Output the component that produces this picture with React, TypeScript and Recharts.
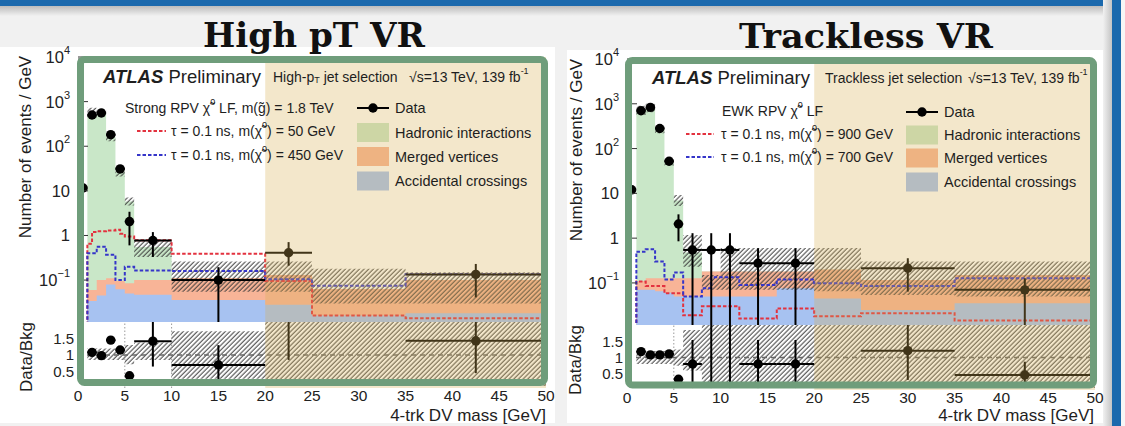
import React from 'react';
import {
  ComposedChart, Area, Line, Scatter, XAxis, YAxis, ErrorBar, ReferenceArea, ReferenceLine,
} from 'recharts';

const SANS = '"Liberation Sans", Arimo, Arial, Helvetica, sans-serif';
const SERIF = '"DejaVu Serif", "Liberation Serif", serif';

/* ================= High pT VR (left) ================= */
const hpBinEdges = [1, 2, 3, 4, 5, 6, 10, 20, 25, 35, 50];
const hpHadronic = [480, 575, 160, 27, 5.7, 0.45, 0, 0, 0, 0];
const hpMerged = [0.026, 0.055, 0.03, 0.033, 0.035, 0.053, 0.076, 0.102, 0.047, 0.082];
const hpAccidental = [0.034, 0.045, 0.08, 0.062, 0.05, 0.047, 0.036, 0.028, 0.016, 0.018];
const hpUncLow = [430, 500, 130, 21, 4.7, 0.33, 0.055, 0.055, 0.03, 0.03];
const hpUncHigh = [730, 680, 195, 34, 7.1, 0.8, 0.26, 0.26, 0.18, 0.15];
const hpSig50Edges = [1, 1.5, 2, 3, 4, 4.5, 5, 6, 10, 20, 25, 35, 50];
const hpSig50 = [0.65, 1.2, 1.25, 1.3, 1.35, 1.1, 0.95, 0.78, 0.39, 0.095, 0.016, 0.014];
const hpSig450Edges = [1, 2, 3, 4, 5, 6, 10, 20, 25, 35, 50];
const hpSig450 = [0.4, 0.56, 0.37, 0.1, 0.2, 0.165, 0.16, 0.105, 0.075, 0.135];
const hpDataX = [0.55, 1.5, 2.5, 3.5, 4.5, 5.5, 8, 15, 22.5, 42.5];
const hpDataXLow = [0.55, 1, 2, 3, 4, 5, 6, 10, 20, 35];
const hpDataXHigh = [0.55, 2, 3, 4, 5, 6, 10, 20, 25, 50];
const hpDataY = [11.6, 500, 555, 182, 31, 2.05, 0.77, 0.1, 0.41, 0.134];
const hpDataYLow = [11.6, 500, 555, 182, 31, 0.6, 0.33, 0.005, 0.21, 0.041];
const hpDataYHigh = [11.6, 500, 555, 182, 31, 3.4, 1.19, 0.195, 0.71, 0.23];
const hpRatioX = [1.5, 2.5, 3.5, 4.5, 5.5, 8, 15, 22.5, 42.5];
const hpRatioXLow = [1, 2, 3, 4, 5, 6, 10, 20, 35];
const hpRatioXHigh = [2, 3, 4, 5, 6, 10, 20, 25, 50];
const hpRatio = [1.08, 0.98, 1.45, 1.15, 0.37, 1.42, 0.7, 3.4, 1.43];
const hpRatioLow = [1.02, 0.92, 1.38, 1.06, 0.3, 0.65, 0.06, 0.85, 0.45];
const hpRatioHigh = [1.14, 1.04, 1.52, 1.24, 0.44, 2.4, 1.3, 6, 2.4];
const hpRatioUncLow = [0.85, 0.85, 0.85, 0.85, 0.72, 0.85, 0.28, 0.06, 0.06, 0.06];
const hpRatioUncHigh = [1.2, 1.2, 1.2, 1.2, 1.3, 1.38, 1.72, 3, 3, 3];

/* ================= Trackless VR (right) ================= */
const tlBinEdges = [1, 2, 3, 4, 5, 6, 8, 10, 12, 16, 20, 25, 35, 50];
const tlHadronic = [680, 800, 270, 50, 6.8, 0.35, 0, 0, 0, 0, 0, 0, 0];
const tlMerged = [0.04, 0.057, 0.062, 0.067, 0.077, 0.077, 0.13, 0.13, 0.13, 0.104, 0.155, 0.092, 0.115];
const tlAccidental = [0.07, 0.07, 0.065, 0.06, 0.05, 0.05, 0.05, 0.05, 0.05, 0.076, 0.045, 0.025, 0.035];
const tlUncLow = [560, 650, 220, 42, 5.2, 0.23, 0.07, 0.07, 0.07, 0.07, 0.065, 0.054, 0.05];
const tlUncHigh = [900, 1000, 330, 62, 9.2, 1.18, 0.15, 0.6, 0.6, 0.6, 0.6, 0.3, 0.3];
const tlSig900Edges = [1, 2, 4, 6, 8, 12, 16, 20, 25, 35, 50];
const tlSig900 = [0.107, 0.085, 0.059, 0.019, 0.03, 0.016, 0.027, 0.018, 0.021, 0.0145];
const tlSig700Edges = [1, 2, 3, 4, 5, 6, 8, 9, 12, 16, 20, 25, 35, 50];
const tlSig700 = [0.5, 0.565, 0.3, 0.12, 0.17, 0.05, 0.076, 0.134, 0.09, 0.12, 0.098, 0.085, 0.128];
const tlDataX = [0.5, 1.5, 2.5, 3.5, 4.5, 5.5, 7, 9, 11, 14, 18, 30, 42.5];
const tlDataXLow = [0.5, 1, 2, 3, 4, 5, 6, 8, 10, 12, 16, 25, 35];
const tlDataXHigh = [0.5, 2, 3, 4, 5, 6, 8, 10, 12, 16, 20, 35, 50];
const tlDataY = [12, 700, 830, 280, 52, 2.07, 0.545, 0.545, 0.545, 0.275, 0.275, 0.213, 0.07];
const tlDataYLow = [12, 700, 830, 280, 52, 0.85, 0.005, 0.005, 0.005, 0.005, 0.005, 0.064, 0.005];
const tlDataYHigh = [12, 700, 830, 280, 52, 3.4, 1.29, 1.29, 1.29, 0.595, 0.595, 0.356, 0.127];
const tlRatioX = [1.5, 2.5, 3.5, 4.5, 5.5, 7, 9, 11, 14, 18, 30, 42.5];
const tlRatioXLow = [1, 2, 3, 4, 5, 6, 8, 10, 12, 16, 25, 35];
const tlRatioXHigh = [2, 3, 4, 5, 6, 8, 10, 12, 16, 20, 35, 50];
const tlRatio = [1.18, 1.08, 1.08, 1.11, 0.33, 0.8, 3, 3, 0.8, 0.8, 1.21, 0.46];
const tlRatioLow = [1.12, 1.02, 1.02, 1.05, 0.28, 0.06, 0.06, 0.06, 0.06, 0.06, 0.31, 0.06];
const tlRatioHigh = [1.24, 1.14, 1.14, 1.17, 0.38, 1.54, 6, 6, 1.54, 1.54, 2.5, 0.87];
const tlRatioUncLow = [0.8, 0.8, 0.8, 0.8, 0.75, 0.6, 0.06, 0.06, 0.06, 0.06, 0.06, 0.06, 0.06];
const tlRatioUncHigh = [1.2, 1.2, 1.2, 1.2, 1.25, 1.85, 3, 3, 3, 3, 3, 3, 3];

/* axis ticks */
const xUnitTicks = Array.from({ length: 51 }, (_, i) => i);
const xLabelTicks = [0, 5, 10, 15, 20, 25, 30, 35, 40, 45, 50];
const ratioTicks = [0.5, 1, 1.5];
const YMIN = 0.0115;
const YMAX = 10000;

/* colours */
const GREEN = '#c9e7c8';
const ORANGE = '#f8b497';
const BLUE = '#a7c2f1';
const RED = '#e3323f';
const SIGBLUE = '#3535c9';
const OVERLAY = '#d7af52';
const OVERLAY_OP = 0.3;
const FRAME = '#6f9d7b';
const SLIDE_BLUE = '#1b69ad';
const Y_W = 78;
const TOP_PAD = 18;

function tint(hex: string) {
  const n = parseInt(hex.slice(1), 16);
  const c = [(n >> 16) & 255, (n >> 8) & 255, n & 255];
  const o = [215, 175, 82];
  return `rgb(${c.map((v, i) => Math.round(v * (1 - OVERLAY_OP) + o[i] * OVERLAY_OP)).join(',')})`;
}

function stepRows(edges: number[], vals: number[], fromFloor = false) {
  const rows: any[] = [];
  if (fromFloor) rows.push({ x: edges[0], y: 0.001 });
  vals.forEach((v, i) => rows.push({ x: edges[i], y: v }));
  rows.push({ x: edges[edges.length - 1], y: vals[vals.length - 1] });
  return rows;
}
function bandRows(edges: number[], lo: number[], hi: number[]) {
  const rows = lo.map((l, i) => ({ x: edges[i], band: [l, hi[i]] }));
  rows.push({ x: edges[edges.length - 1], band: [lo[lo.length - 1], hi[hi.length - 1]] });
  return rows;
}
function pointRows(x: number[], xl: number[], xh: number[], y: number[], yl: number[], yh: number[]) {
  return x.map((xv, i) => ({
    x: xv, y: y[i], ex: [xv - xl[i], xh[i] - xv], ey: [y[i] - yl[i], yh[i] - y[i]],
  }));
}
function logTicks(min: number, max: number) {
  const t: number[] = [];
  for (let e = -2; e <= 4; e++) {
    for (let k = 1; k <= 9; k++) {
      const v = +(k * Math.pow(10, e)).toPrecision(6);
      if (v >= min && v <= max) t.push(v);
    }
  }
  return t;
}

const LogTick = (props: any) => {
  const { x, y, payload } = props;
  const v = payload.value;
  const lg = Math.log10(v);
  const e = Math.round(lg);
  const major = Math.abs(lg - e) < 1e-6;
  const ax = x + 8;
  let label: any = null;
  if (major) {
    label = (
      <text x={x} y={y} textAnchor="end" dominantBaseline="central" fontSize={16.5} fill="#222" fontFamily={SANS}>
        {e === 0 ? '1' : '10'}
        {(e < 0 || e > 1) && <tspan dy={-7} fontSize={11}>{e < 0 ? '\u2212' + -e : e}</tspan>}
      </text>
    );
  }
  return (
    <g>
      <line x1={ax} x2={ax + (major ? 10 : 5)} y1={y} y2={y} stroke="#333" strokeWidth={1} />
      {label}
    </g>
  );
};
const RightLogTick = (props: any) => {
  const { x, y, payload } = props;
  const lg = Math.log10(payload.value);
  const major = Math.abs(lg - Math.round(lg)) < 1e-6;
  return <line x1={x} x2={x - (major ? 10 : 5)} y1={y} y2={y} stroke="#333" strokeWidth={1} />;
};
const VTick = (props: any) => {
  const { x, y, payload, dir } = props;
  const v = payload.value;
  if (v <= 0 || v >= 50) return <g />;
  const len = v % 5 === 0 ? 9 : 4.5;
  return <line x1={x} x2={x} y1={y} y2={y + dir * len} stroke="#333" strokeWidth={1} />;
};
const Dot = (p: any) => <circle cx={p.cx} cy={p.cy} r={4.7} fill="#000" />;

type PanelCfg = {
  left: number; plotW: number; mainTop: number; mainH: number; ratioH: number;
  edges: number[]; hadronic: number[]; merged: number[]; accidental: number[];
  uncLow: number[]; uncHigh: number[];
  sigRedEdges: number[]; sigRed: number[]; sigBlueEdges: number[]; sigBlue: number[];
  points: any[]; ratioPoints: any[]; ratioUncLow: number[]; ratioUncHigh: number[];
  dotted: number[];
};

function PanelCharts({ p }: { p: PanelCfg }) {
  const total = p.hadronic.map((h, i) => h + p.merged[i] + p.accidental[i]);
  const mergedCum = p.merged.map((m, i) => m + p.accidental[i]);
  const yTicks = logTicks(YMIN, YMAX);
  const W = Y_W + p.plotW + 10;
  const common = { isAnimationActive: false, dot: false, activeDot: false } as any;
  return (
    <>
      <div style={{ position: 'absolute', left: p.left, top: p.mainTop - TOP_PAD }}>
        <ComposedChart width={W} height={TOP_PAD + p.mainH} margin={{ top: TOP_PAD, right: 10, bottom: 0, left: 0 }}>
          <XAxis type="number" dataKey="x" domain={[0, 50]} allowDataOverflow ticks={xUnitTicks} interval={0}
            height={0} tickSize={0} tickMargin={0} tickLine={false} axisLine={{ stroke: '#333', strokeWidth: 1.5 }}
            tick={(t: any) => <VTick {...t} dir={-1} />} />
          <XAxis xAxisId="top" orientation="top" type="number" dataKey="x" domain={[0, 50]} allowDataOverflow
            ticks={xUnitTicks} interval={0} height={0} tickSize={0} tickMargin={0} tickLine={false} axisLine={false}
            tick={(t: any) => <VTick {...t} dir={1} />} />
          <YAxis type="number" scale="log" domain={[YMIN, YMAX]} allowDataOverflow ticks={yTicks} interval={0}
            width={Y_W} tickSize={0} tickMargin={8} tickLine={false} axisLine={false}
            tick={(t: any) => <LogTick {...t} />} />
          <YAxis yAxisId="right" orientation="right" type="number" scale="log" domain={[YMIN, YMAX]} allowDataOverflow
            ticks={yTicks} interval={0} width={0} tickSize={0} tickMargin={0} tickLine={false} axisLine={false}
            tick={(t: any) => <RightLogTick {...t} />} />
          <Area data={stepRows(p.edges, total)} dataKey="y" type="stepAfter" fill={GREEN} fillOpacity={1}
            stroke="none" baseValue={YMIN} {...common} />
          <Area data={stepRows(p.edges, mergedCum)} dataKey="y" type="stepAfter" fill={ORANGE} fillOpacity={1}
            stroke="none" baseValue={YMIN} {...common} />
          <Area data={stepRows(p.edges, p.accidental)} dataKey="y" type="stepAfter" fill={BLUE} fillOpacity={1}
            stroke="none" baseValue={YMIN} {...common} />
          <Area data={bandRows(p.edges, p.uncLow, p.uncHigh)} dataKey="band" type="stepAfter" fill="url(#hatch)"
            fillOpacity={1} stroke="none" {...common} />
          <Line data={stepRows(p.sigRedEdges, p.sigRed, true)} dataKey="y" type="stepAfter" stroke={RED}
            strokeWidth={2} strokeDasharray="3.5 2" {...common} />
          <Line data={stepRows(p.sigBlueEdges, p.sigBlue, true)} dataKey="y" type="stepAfter" stroke={SIGBLUE}
            strokeWidth={2} strokeDasharray="3.5 2" {...common} />
          <Scatter data={p.points} dataKey="y" isAnimationActive={false} shape={Dot}>
            <ErrorBar dataKey="ey" direction="y" width={0} stroke="#000" strokeWidth={2} />
            <ErrorBar dataKey="ex" direction="x" width={0} stroke="#000" strokeWidth={2} />
          </Scatter>
          <ReferenceArea x1={20} x2={50} fill={OVERLAY} fillOpacity={OVERLAY_OP} stroke="none" zIndex={1500} />
        </ComposedChart>
      </div>
      <div style={{ position: 'absolute', left: p.left, top: p.mainTop + p.mainH }}>
        <ComposedChart width={W} height={p.ratioH + 40} margin={{ top: 0, right: 10, bottom: 0, left: 0 }}>
          <XAxis type="number" dataKey="x" domain={[0, 50]} allowDataOverflow ticks={xLabelTicks} interval={0}
            height={40} tickSize={0} tickMargin={2} tickLine={false} axisLine={false}
            tick={{ fontSize: 15.5, fill: '#222', fontFamily: SANS }} />
          <YAxis type="number" domain={[0, 2]} allowDataOverflow ticks={ratioTicks} interval={0} width={Y_W}
            tickSize={0} tickMargin={4} tickLine={false} axisLine={false}
            tick={{ fontSize: 15, fill: '#222', fontFamily: SANS }} />
          {p.dotted.map((d) => (
            <ReferenceLine key={d} x={d} stroke="#9a9a9a" strokeDasharray="1.5 2" strokeWidth={1} />
          ))}
          <ReferenceLine y={1} stroke="#666" strokeDasharray="5 4" strokeWidth={1.3} />
          <Area data={bandRows(p.edges, p.ratioUncLow, p.ratioUncHigh)} dataKey="band" type="stepAfter"
            fill="url(#hatch)" fillOpacity={1} stroke="none" {...common} />
          <Scatter data={p.ratioPoints} dataKey="y" isAnimationActive={false} shape={Dot}>
            <ErrorBar dataKey="ey" direction="y" width={0} stroke="#000" strokeWidth={2} />
            <ErrorBar dataKey="ex" direction="x" width={0} stroke="#000" strokeWidth={2} />
          </Scatter>
          <ReferenceArea x1={20} x2={50} fill={OVERLAY} fillOpacity={OVERLAY_OP} stroke="none" zIndex={1500} />
        </ComposedChart>
      </div>
    </>
  );
}

const HP: PanelCfg = {
  left: 0, plotW: 468, mainTop: 57, mainH: 265, ratioH: 66,
  edges: hpBinEdges, hadronic: hpHadronic, merged: hpMerged, accidental: hpAccidental,
  uncLow: hpUncLow, uncHigh: hpUncHigh,
  sigRedEdges: hpSig50Edges, sigRed: hpSig50, sigBlueEdges: hpSig450Edges, sigBlue: hpSig450,
  points: pointRows(hpDataX, hpDataXLow, hpDataXHigh, hpDataY, hpDataYLow, hpDataYHigh),
  ratioPoints: pointRows(hpRatioX, hpRatioXLow, hpRatioXHigh, hpRatio, hpRatioLow, hpRatioHigh),
  ratioUncLow: hpRatioUncLow, ratioUncHigh: hpRatioUncHigh, dotted: [5, 10],
};
const TL: PanelCfg = {
  left: 549, plotW: 468, mainTop: 59, mainH: 266, ratioH: 65,
  edges: tlBinEdges, hadronic: tlHadronic, merged: tlMerged, accidental: tlAccidental,
  uncLow: tlUncLow, uncHigh: tlUncHigh,
  sigRedEdges: tlSig900Edges, sigRed: tlSig900, sigBlueEdges: tlSig700Edges, sigBlue: tlSig700,
  points: pointRows(tlDataX, tlDataXLow, tlDataXHigh, tlDataY, tlDataYLow, tlDataYHigh),
  ratioPoints: pointRows(tlRatioX, tlRatioXLow, tlRatioXHigh, tlRatio, tlRatioLow, tlRatioHigh),
  ratioUncLow: tlRatioUncLow, ratioUncHigh: tlRatioUncHigh, dotted: [5],
};

const chi0 = (
  <>
    {'\u03C7\u0303'}
    <tspan dy={-6} fontSize={9}>0</tspan>
  </>
);

function Legend({ L }: { L: any }) {
  const t = { fontFamily: SANS, fill: '#1e1e1e', dominantBaseline: 'central' } as any;
  return (
    <g>
      <text x={L.atlasX} y={L.atlasY} fontSize={18.5} {...t}>
        <tspan fontWeight="bold" fontStyle="italic">ATLAS</tspan> Preliminary
      </text>
      <text x={L.selX} y={L.atlasY + 1} fontSize={14} {...t}>
        {L.selPre}
        {L.selSub && <tspan dy={3} fontSize={9}>T</tspan>}
        {L.selSub && <tspan dy={-3}>{L.selPost}</tspan>}
      </text>
      <text x={L.sqrtX} y={L.atlasY + 1} fontSize={14} {...t}>
        {'\u221As=13 TeV, 139 fb'}
        <tspan dy={-6} fontSize={9}>-1</tspan>
      </text>
      <text x={L.modelX} y={L.modelY} fontSize={14} {...t}>
        {L.modelPre}
        {chi0}
        <tspan dy={6}>{L.modelPost}</tspan>
      </text>
      {[0, 1].map((i) => (
        <g key={i}>
          <line x1={L.sigX0} x2={L.sigX1} y1={L.sigY[i]} y2={L.sigY[i]} stroke={i === 0 ? RED : SIGBLUE}
            strokeWidth={2} strokeDasharray="3.5 2" />
          <text x={L.sigTextX} y={L.sigY[i]} fontSize={14} {...t}>
            {'\u03C4 = 0.1 ns, m('}
            {chi0}
            <tspan dy={6}>{`) = ${L.sigMass[i]} GeV`}</tspan>
          </text>
        </g>
      ))}
      <line x1={L.boxX} x2={L.boxX + 32} y1={L.dataY} y2={L.dataY} stroke="#000" strokeWidth={2} />
      <circle cx={L.boxX + 16} cy={L.dataY} r={4.7} fill="#000" />
      <text x={L.boxX + 38} y={L.dataY} fontSize={14.5} {...t}>Data</text>
      {[['Hadronic interactions', GREEN], ['Merged vertices', ORANGE], ['Accidental crossings', BLUE]].map(
        ([name, col], i) => (
          <g key={name}>
            <rect x={L.boxX} y={L.rowY[i] - 9.5} width={32} height={19} fill={tint(col)} />
            <text x={L.boxX + 38} y={L.rowY[i]} fontSize={14.5} {...t}>{name}</text>
          </g>
        ),
      )}
    </g>
  );
}

const HP_LEGEND = {
  atlasX: 103, atlasY: 76, selX: 273, selPre: 'High-p', selSub: true, selPost: ' jet selection', sqrtX: 409,
  modelX: 125, modelY: 108, modelPre: 'Strong RPV ', modelPost: ' LF, m(g\u0303) = 1.8 TeV',
  sigX0: 137, sigX1: 166, sigTextX: 171, sigY: [131, 155], sigMass: [50, 450],
  boxX: 357, dataY: 108, rowY: [132.5, 156.5, 181],
};
const TL_LEGEND = {
  atlasX: 652, atlasY: 77, selX: 825, selPre: 'Trackless jet selection', selSub: false, selPost: '', sqrtX: 968,
  modelX: 722, modelY: 111, modelPre: 'EWK RPV ', modelPost: ' LF',
  sigX0: 686, sigX1: 714, sigTextX: 721, sigY: [134, 157], sigMass: [900, 700],
  boxX: 906, dataY: 112, rowY: [135, 158, 182],
};

function Overlay() {
  const ax = { fontFamily: SANS, fill: '#1e1e1e', fontSize: 17 } as any;
  return (
    <svg width={1125} height={426} style={{ position: 'absolute', left: 0, top: 0, pointerEvents: 'none' }}>
      {/* highlight frames */}
      <rect x={80.5} y={59.5} width={464} height={323} rx={4} fill="none" stroke={FRAME} strokeWidth={7} />
      <rect x={628.5} y={60.5} width={465} height={324.5} rx={4} fill="none" stroke={FRAME} strokeWidth={7} />
      {/* titles */}
      <text x={314} y={47} textAnchor="middle" fontFamily={SERIF} fontWeight="bold" fontSize={34}
        textLength={222} lengthAdjust="spacingAndGlyphs" fill="#111">High pT VR</text>
      <text x={866} y={48} textAnchor="middle" fontFamily={SERIF} fontWeight="bold" fontSize={34}
        textLength={254} lengthAdjust="spacingAndGlyphs" fill="#111">Trackless VR</text>
      {/* axis titles */}
      <text transform="translate(25,147) rotate(-90)" textAnchor="middle" dominantBaseline="central" {...ax}>
        Number of events / GeV</text>
      <text transform="translate(26,357) rotate(-90)" textAnchor="middle" dominantBaseline="central" {...ax}>
        Data/Bkg</text>
      <text x={546} y={415} textAnchor="end" dominantBaseline="central" {...ax}>4-trk DV mass [GeV]</text>
      <text transform="translate(576,150) rotate(-90)" textAnchor="middle" dominantBaseline="central" {...ax}>
        Number of events / GeV</text>
      <text transform="translate(575,360) rotate(-90)" textAnchor="middle" dominantBaseline="central" {...ax}>
        Data/Bkg</text>
      <text x={1094} y={415} textAnchor="end" dominantBaseline="central" {...ax}>4-trk DV mass [GeV]</text>
      <Legend L={HP_LEGEND} />
      <Legend L={TL_LEGEND} />
    </svg>
  );
}

export default function App() {
  return (
    <div style={{ position: 'absolute', left: 0, top: 0, width: 1125, height: 426, overflow: 'hidden',
      background: '#f1f1f1', fontFamily: SANS }}>
      <svg width={0} height={0} style={{ position: 'absolute' }}>
        <defs>
          <pattern id="hatch" patternUnits="userSpaceOnUse" width={3.3} height={3.3} patternTransform="rotate(45)">
            <line x1={1} y1={0} x2={1} y2={3.3} stroke="#3a3a3a" strokeWidth={1} />
          </pattern>
        </defs>
      </svg>
      {/* slide decoration */}
      <div style={{ position: 'absolute', left: 0, top: 0, width: 1125, height: 6, background: SLIDE_BLUE }} />
      <div style={{ position: 'absolute', left: 0, top: 6, width: 1112, height: 10,
        background: 'linear-gradient(#bcbcbc, #f1f1f1)' }} />
      <div style={{ position: 'absolute', left: 1103, top: 0, width: 9, height: 426,
        background: 'linear-gradient(to right, #f1f1f1, #c4c4c4)' }} />
      <div style={{ position: 'absolute', left: 1112, top: 0, width: 9, height: 426, background: SLIDE_BLUE }} />
      <div style={{ position: 'absolute', left: 1121, top: 0, width: 4, height: 426, background: '#f6f6f6' }} />
      <div style={{ position: 'absolute', left: 0, top: 47, width: 555, height: 376, background: '#fff' }} />
      <div style={{ position: 'absolute', left: 567, top: 50, width: 536, height: 373, background: '#fff' }} />
      <PanelCharts p={HP} />
      <PanelCharts p={TL} />
      <Overlay />
    </div>
  );
}
